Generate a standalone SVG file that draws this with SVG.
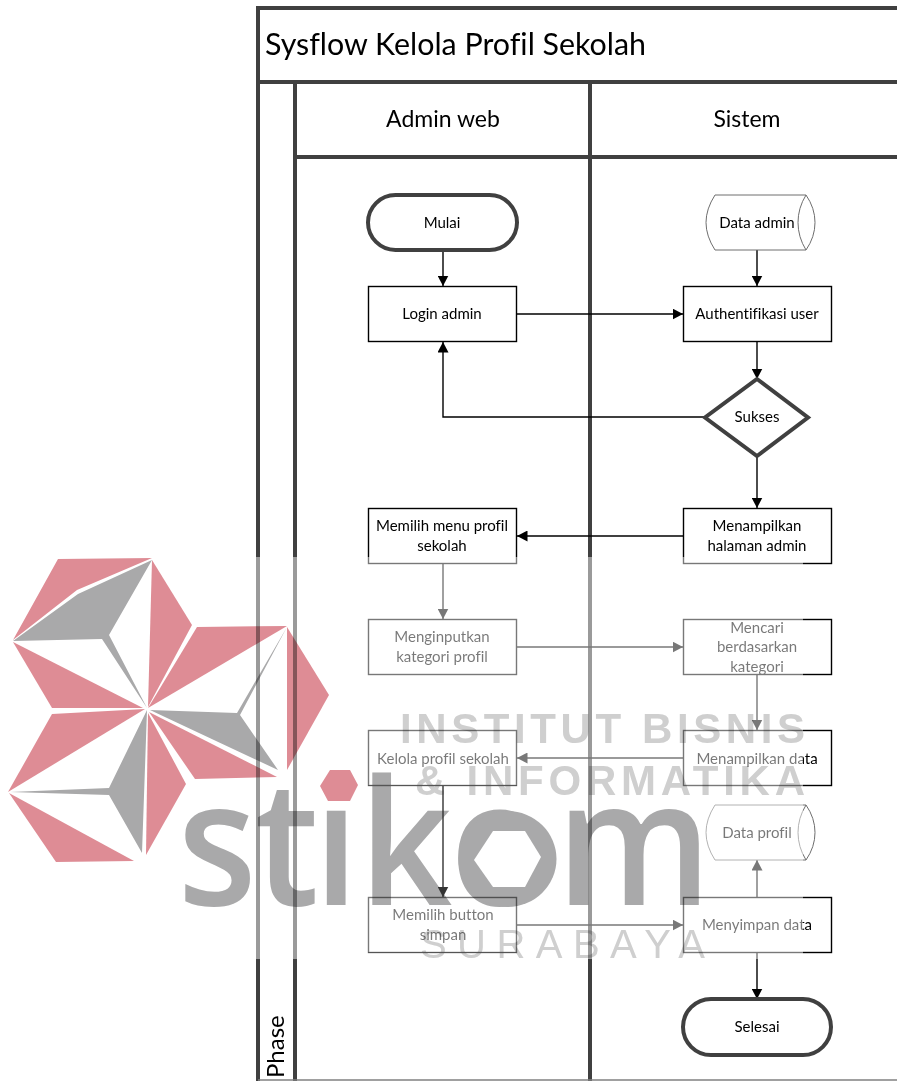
<svg xmlns="http://www.w3.org/2000/svg" width="897" height="1081" viewBox="0 0 897 1081">
<style>
text{font-family:"Lato","Carlito","Liberation Sans",sans-serif;fill:#000;text-anchor:middle;font-variant-ligatures:none}
.f{stroke:#404040;stroke-width:4;fill:none}
.b{fill:#fff;stroke:#000;stroke-width:1.4}
.t{fill:#fff;stroke:#404040;stroke-width:4}
.d{fill:#fff;stroke:#6e6e6e;stroke-width:1}
.n{font-size:15px}
.h{font-size:23px}
.c{fill:none;stroke:#000;stroke-width:1.4}
.r{fill:#de8c95;mix-blend-mode:multiply}
.g{fill:#a9a9aa;mix-blend-mode:multiply}
.w{font-family:"Liberation Sans",sans-serif;font-weight:700;font-size:42px;fill:#cfcfcf;text-anchor:start;mix-blend-mode:multiply}
</style>
<defs>
<marker id="a" markerWidth="11" markerHeight="11" refX="10.500" refY="5.500" orient="auto" markerUnits="userSpaceOnUse"><path d="M0 0L10.500 5.500L0 11Z" fill="#000"/></marker>
<marker id="k" markerWidth="11" markerHeight="11" refX="10.500" refY="5.500" orient="auto" markerUnits="userSpaceOnUse"><path d="M0 0L10.500 5.500L0 11Z" fill="#333"/></marker>
<clipPath id="nodot"><path clip-rule="evenodd" d="M0 0H897V1081H0ZM316 755H362V808H316Z"/></clipPath>
</defs>
<rect width="897" height="1081" fill="#fff"/>
<g id="frame">
<path class="f" d="M897 8H258V1081M258 82H897M295 82V1081M590 82V1081M295 157H897"/>
<path d="M258 1080H897" stroke="#808080" stroke-width="1.500"/>
<text x="265" y="55" textLength="381" lengthAdjust="spacingAndGlyphs" style="font-size:30px;text-anchor:start">Sysflow Kelola Profil Sekolah</text>
<text x="443" y="127" class="h">Admin web</text>
<text x="747" y="127" class="h">Sistem</text>
<text transform="translate(284 1078) rotate(-90)" style="font-size:24px;text-anchor:start">Phase</text>
</g>
<g id="connectors">
<path class="c" marker-end="url(#a)" d="M443 250V286"/>
<path class="c" marker-end="url(#a)" d="M757 250V286"/>
<path class="c" marker-end="url(#a)" d="M517 314H683"/>
<path class="c" marker-end="url(#a)" d="M757 342V379"/>
<path class="c" marker-end="url(#a)" d="M705 417H443V342"/>
<path class="c" marker-end="url(#a)" d="M757 456V508"/>
<path class="c" marker-end="url(#a)" d="M683 536H517"/>
<path class="c" marker-end="url(#a)" d="M443 564V619"/>
<path class="c" marker-end="url(#a)" d="M517 647H683"/>
<path class="c" marker-end="url(#a)" d="M757 675V730"/>
<path class="c" marker-end="url(#a)" d="M683 758H517"/>
<path class="c" marker-end="url(#a)" d="M517 925H683"/>
<path class="c" marker-end="url(#a)" d="M757 897V860"/>
<path class="c" marker-end="url(#a)" d="M757 953V999"/>
</g>
<g id="mulai"><rect class="t" x="368" y="195" width="149" height="55" rx="27.500"/><text class="n" x="442" y="228">Mulai</text></g>
<g id="data-admin"><path class="d" d="M715 195H806Q815 208 815 222.500Q815 237 806 250H715Q706 236 706 222.500Q706 209 715 195ZM806 195Q798 208 798 222.500Q798 237 806 250"/><text class="n" x="757" y="228">Data admin</text></g>
<g id="login"><rect class="b" x="368.500" y="286.500" width="148" height="55"/><text class="n" x="442" y="319">Login admin</text></g>
<g id="auth"><rect class="b" x="683.500" y="286.500" width="148" height="55"/><text class="n" x="757" y="319">Authentifikasi user</text></g>
<g id="sukses"><path d="M757 379L808 417.500L757 456L705 417.500Z" fill="#fff" stroke="#404040" stroke-width="4"/><text class="n" x="757" y="422">Sukses</text></g>
<g id="halaman"><rect class="b" x="683.500" y="508.500" width="148" height="55"/><text class="n" x="757" y="531">Menampilkan</text><text class="n" x="757" y="551">halaman admin</text></g>
<g id="menu"><rect class="b" x="368.500" y="508.500" width="148" height="55"/><text class="n" x="442" y="531">Memilih menu profil</text><text class="n" x="442" y="551">sekolah</text></g>
<g id="input"><rect class="b" x="368.500" y="619.500" width="148" height="55"/><text class="n" x="442" y="642">Menginputkan</text><text class="n" x="442" y="662">kategori profil</text></g>
<g id="cari"><rect class="b" x="683.500" y="619.500" width="148" height="55"/><text class="n" x="757" y="633">Mencari</text><text class="n" x="757" y="652">berdasarkan</text><text class="n" x="757" y="672">kategori</text></g>
<g id="kelola"><rect class="b" x="368.500" y="730.500" width="148" height="55"/><text class="n" x="443" y="764">Kelola profil sekolah</text></g>
<g id="tampil"><rect class="b" x="683.500" y="730.500" width="148" height="55"/><text class="n" x="757" y="764">Menampilkan data</text></g>
<g id="data-profil"><path class="d" d="M715 805H806Q815 818 815 832.500Q815 847 806 860H715Q706 846 706 832.500Q706 819 715 805ZM806 805Q798 818 798 832.500Q798 847 806 860"/><text class="n" x="757" y="838">Data profil</text></g>
<g id="button"><rect class="b" x="368.500" y="897.500" width="148" height="55"/><text class="n" x="443" y="920">Memilih button</text><text class="n" x="443" y="940">simpan</text></g>
<g id="simpan"><rect class="b" x="683.500" y="897.500" width="148" height="55"/><text class="n" x="757" y="930">Menyimpan data</text></g>
<g id="selesai"><rect class="t" x="683" y="999" width="148" height="56" rx="28"/><text class="n" x="757" y="1032">Selesai</text></g>
<rect id="wash" x="0" y="557" width="803" height="402" fill="#fff" fill-opacity=".47"/>
<g id="watermark">
<polygon class="r" points="58,559 152,558 77,590 13,640"/>
<polygon class="g" points="13,641 78,594 152,560 109,635 147,708 102,639"/>
<polygon class="r" points="152,560 192,625 148,707"/>
<polygon class="r" points="13,642 143,708 52,708"/>
<polygon class="r" points="197,627 287,626 148,708"/>
<polygon class="g" points="287,627 240,715 278,770 150,710 237,713"/>
<polygon class="r" points="287,627 329,695 287,770"/>
<polygon class="r" points="149,712 277,777 195,779"/>
<polygon class="r" points="52,714 145,709 8,792"/>
<polygon class="g" points="147,710 142,853 109,795 10,792 109,788"/>
<polygon class="r" points="148,713 186,784 146,855"/>
<polygon class="r" points="9,793 134,861 56,862"/>
<polygon class="r" points="330,770 350,770 358,785 350,801 328,801 320,786"/>
<g clip-path="url(#nodot)" style="mix-blend-mode:multiply">
<text transform="scale(.93 1)" x="191 274 337 386 484 598" y="905" style="font-family:'Open Sans',sans-serif;font-size:175px;font-weight:600;fill:#a9a9aa;text-anchor:start">stikom</text>
<ellipse cx="507.500" cy="859" rx="49" ry="48" fill="#a9a9aa"/>
</g>
<polygon points="493,831 525,831 541,857 525,887 493,887 474,860" fill="#fff"/>
<text class="w" x="400" y="743" textLength="405">INSTITUT BISNIS</text>
<text class="w" x="415" y="795" textLength="390">&amp; INFORMATIKA</text>
<text x="420" y="958" textLength="285" style="font-family:'Liberation Sans',sans-serif;font-size:40px;fill:#cfcfcf;text-anchor:start;mix-blend-mode:multiply">SURABAYA</text>
</g>
<g id="connectors-over-wash">
<path d="M443 786V897" fill="none" stroke="#333" stroke-width="1.400" marker-end="url(#k)"/>
<path d="M368 785.500H517M368 952.500H517" fill="none" stroke="#555" stroke-width="1.200"/>
</g>
</svg>
